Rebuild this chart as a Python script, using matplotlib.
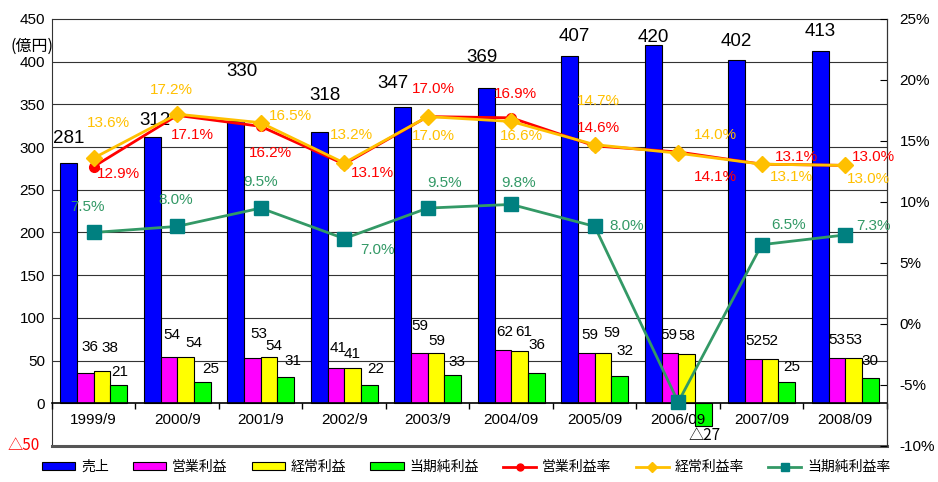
import numpy as np
import matplotlib
matplotlib.use("Agg")
import matplotlib.pyplot as plt
from matplotlib.patches import Patch
from matplotlib.lines import Line2D

plt.rcParams['font.family'] = ['Liberation Sans', 'Noto Sans CJK JP']
CJK = ['Noto Sans CJK JP']

years = ['1999/9', '2000/9', '2001/9', '2002/9', '2003/9',
         '2004/09', '2005/09', '2006/09', '2007/09', '2008/09']
sales = [281, 312, 330, 318, 347, 369, 407, 420, 402, 413]
op_income = [36, 54, 53, 41, 59, 62, 59, 59, 52, 53]
ord_income = [38, 54, 54, 41, 59, 61, 59, 58, 52, 53]
net_income = [21, 25, 31, 22, 33, 36, 32, -27, 25, 30]
op_margin = [12.9, 17.1, 16.2, 13.1, 17.0, 16.9, 14.6, 14.1, 13.1, 13.0]
ord_margin = [13.6, 17.2, 16.5, 13.2, 17.0, 16.6, 14.7, 14.0, 13.1, 13.0]
net_margin = [7.5, 8.0, 9.5, 7.0, 9.5, 9.8, 8.0, -6.4, 6.5, 7.3]
net_margin_shown = [True] * 7 + [False] + [True] * 2

# label offsets in pixels (dx right, dy up) from the bar top / marker
sales_off = [(0, 25), (3, 16), (6, 50), (6, 36), (-10, 23), (-4, 31), (5, 19), (0, 7), (0, 18), (0, 19)]
op_off = [(5, 26), (3, 22), (6, 24), (2, 20), (0, 27), (2, 18), (3, 18), (-1, 18), (0, 18), (0, 18)]
ord_off = [(8, 23), (8, 14), (5, 11), (0, 14), (1, 12), (4, 19), (9, 20), (0, 18), (0, 18), (0, 18)]
net_off = [(1, 13), (8, 13), (7, 16), (6, 16), (4, 13), (1, 28), (5, 25), (1, -9), (5, 15), (0, 17)]
opm_off = [(25, -7), (15, -20), (10, -27), (28, -9), (6, 28), (4, 24), (4, 18), (37, -25), (35, 7), (28, 8)]
ordm_off = [(15, 35), (-6, 24), (30, 7), (7, 28), (6, -19), (10, -15), (4, 44), (37, 18), (30, -13), (23, -14)]
netm_off = [(-6, 25), (-2, 26), (0, 26), (33, -11), (17, 25), (7, 21), (32, 0), (0, 0), (27, 20), (28, 9)]

C_SALES = '#0000FF'
C_OP = '#FF00FF'
C_ORD = '#FFFF00'
C_NET = '#00FF00'
C_OPM = '#FF0000'
C_ORDM = '#FFC000'
C_NETM = '#339966'

fig = plt.figure(figsize=(9.38, 4.82), dpi=100)
ax = fig.add_axes([0.0554, 0.0747, 0.8902, 0.8859])
x = np.arange(len(years))
w = 0.2

series = [(sales, C_SALES, -1.5), (op_income, C_OP, -0.5),
          (ord_income, C_ORD, 0.5), (net_income, C_NET, 1.5)]
for vals, col, k in series:
    ax.bar(x + k * w, vals, w, color=col, edgecolor='black', linewidth=0.8, zorder=2)

for vals, offs, k, fs in [(sales, sales_off, -1.5, 13.5), (op_income, op_off, -0.5, 11),
                          (ord_income, ord_off, 0.5, 11), (net_income, net_off, 1.5, 11)]:
    for i, v in enumerate(vals):
        if v < 0:
            # negatives are written with a triangle, in the Japanese font
            ax.annotate(f'△{abs(v)}', (x[i] + k * w, v), xytext=offs[i],
                        textcoords='offset pixels', ha='center', va='center',
                        fontsize=fs, family=CJK, zorder=6)
        else:
            ax.annotate(str(v), (x[i] + k * w, v), xytext=offs[i], textcoords='offset pixels',
                        ha='center', va='center', fontsize=fs, zorder=6)

ax.set_xlim(-0.5, len(years) - 0.5)
ax.set_ylim(-50, 450)
ax.set_yticks(np.arange(-50, 451, 50))
ax.set_yticklabels([''] + [str(v) for v in range(0, 451, 50)])
ax.tick_params(axis='y', length=0, pad=5, labelsize=11)
ax.annotate('△50', (0, -50), xycoords=('axes fraction', 'data'), xytext=(-12, 0),
            textcoords='offset pixels', ha='right', va='center', fontsize=11, color='red',
            family=CJK)
for yv in range(50, 401, 50):
    ax.axhline(yv, color='#333333', linewidth=0.8, zorder=1)

ax.spines['bottom'].set_position(('data', 0))
ax.spines['bottom'].set_linewidth(1.2)
ax.spines['bottom'].set_zorder(3)
ax.set_xticks(x)
ax.set_xticklabels(years)
ax.set_xticks(np.arange(-0.5, len(years), 1.0), minor=True)
ax.tick_params(axis='x', which='major', length=0, pad=7, labelsize=11)
ax.tick_params(axis='x', which='minor', length=4, direction='out', width=1)
ax.xaxis.set_zorder(5)
ax.axhline(-50, color='#555555', linewidth=2.2, clip_on=False, zorder=3)
ax.spines['left'].set_color('#333333')
ax.spines['top'].set_color('#333333')

ax2 = ax.twinx()
ax2.set_ylim(-10, 25)
ax2.set_yticks(np.arange(-10, 26, 5))
ax2.set_yticklabels([f'{v}%' for v in range(-10, 26, 5)])
ax2.tick_params(axis='y', direction='in', length=5, pad=9, labelsize=11)
ax2.spines['right'].set_color('#333333')
for s in ['left', 'top', 'bottom']:
    ax2.spines[s].set_visible(False)

ax2.plot(x, op_margin, color=C_OPM, linewidth=2, marker='o', markersize=7,
         markeredgecolor=C_OPM, zorder=3)
ax2.plot(x, ord_margin, color=C_ORDM, linewidth=2, marker='D', markersize=8.5,
         markeredgecolor=C_ORDM, zorder=4)
ax2.plot(x, net_margin, color=C_NETM, linewidth=2, marker='s', markersize=9.5,
         markerfacecolor='#008080', markeredgecolor='#008080', zorder=4)

for vals, offs, col in [(op_margin, opm_off, C_OPM), (ord_margin, ordm_off, C_ORDM),
                        (net_margin, netm_off, C_NETM)]:
    for i, v in enumerate(vals):
        if vals is net_margin and not net_margin_shown[i]:
            continue
        ax2.annotate(f'{v:.1f}%', (x[i], v), xytext=offs[i], textcoords='offset pixels',
                     ha='center', va='center', fontsize=11, color=col, zorder=6)

fig.text(0.057, 0.903, '(億円)', ha='right', va='center', fontsize=11.5, family=CJK)

handles = [
    Patch(facecolor=C_SALES, edgecolor='black', linewidth=0.8),
    Patch(facecolor=C_OP, edgecolor='black', linewidth=0.8),
    Patch(facecolor=C_ORD, edgecolor='black', linewidth=0.8),
    Patch(facecolor=C_NET, edgecolor='black', linewidth=0.8),
    Line2D([], [], color=C_OPM, linewidth=2, marker='o', markersize=5),
    Line2D([], [], color=C_ORDM, linewidth=2, marker='D', markersize=5),
    Line2D([], [], color=C_NETM, linewidth=2, marker='s', markersize=6,
           markerfacecolor='#008080', markeredgecolor='#008080'),
]
labels = ['売上', '営業利益', '経常利益', '当期純利益', '営業利益率', '経常利益率', '当期純利益率']
fig.legend(handles, labels, loc='center', bbox_to_anchor=(0.497, 0.031), ncol=7,
           frameon=False, handlelength=2.4, handleheight=0.55,
           handletextpad=0.4, columnspacing=1.75,
           prop={'family': CJK, 'size': 10})

fig.savefig('out.png', dpi=100)
